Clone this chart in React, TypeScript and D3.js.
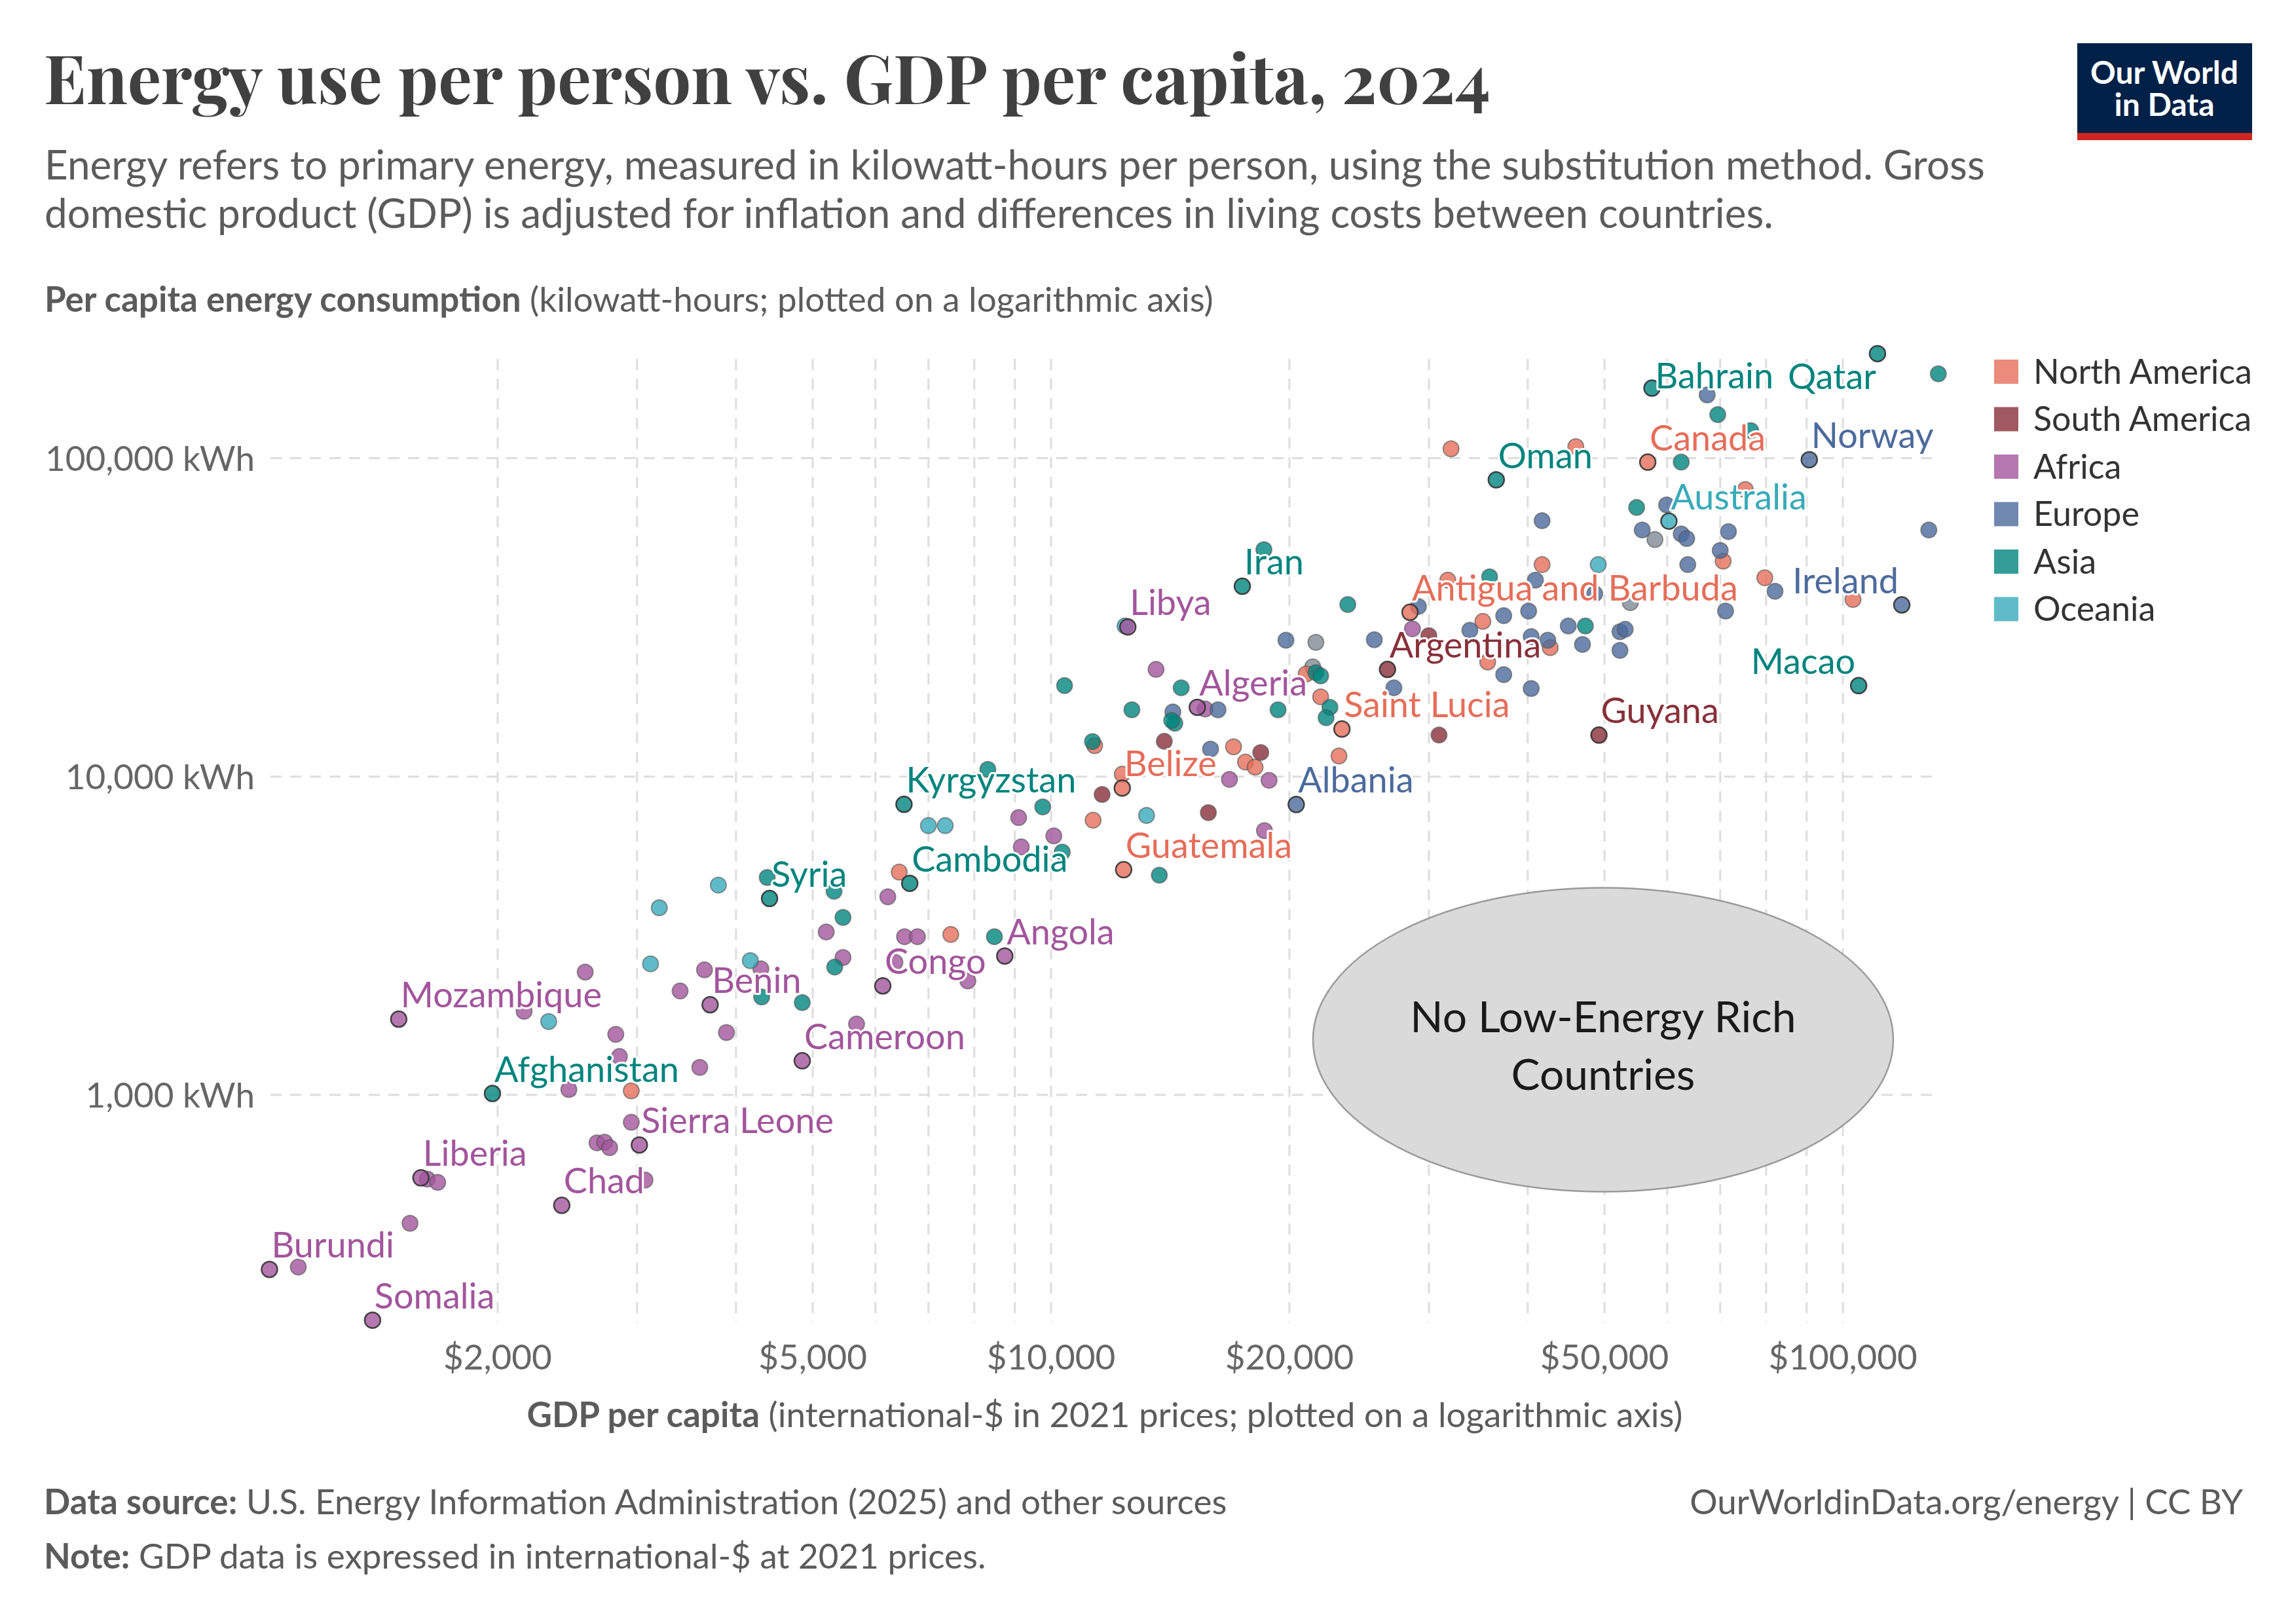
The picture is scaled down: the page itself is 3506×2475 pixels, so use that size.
import * as d3 from 'd3'

// GDP per capita (int.-$) and energy per person (kWh), grouped by continent
const northAmerica: [number, number][] = [
  [2950, 1030], [6430, 5010], [7470, 3190], [11300, 7290], [12300, 10170], [11350, 12500],
  [17000, 12400], [17600, 11100], [18100, 10700], [21000, 21000], [21900, 17800], [23100, 11600],
  [31700, 41400], [32000, 107000], [46000, 108700], [75300, 79700], [70600, 47500], [41700, 46300],
  [79700, 42100], [103000, 36000], [35100, 30700], [42700, 25400], [35600, 22900],
]
const southAmerica: [number, number][] = [
  [11600, 8780], [13900, 12900], [18400, 11900], [15800, 7700], [30000, 27700], [30900, 13500],
]
const africa: [number, number][] = [
  [1120, 288], [1550, 395], [1630, 544], [1680, 531], [2160, 1830], [2580, 2430], [2820, 1550],
  [2850, 1320], [3600, 1220], [2460, 1040], [2950, 820], [2670, 707], [2730, 710], [2770, 683],
  [3070, 540], [5200, 3250], [4300, 2490], [3650, 2470], [3400, 2120], [5460, 2700], [3890, 1570],
  [5680, 1670], [6220, 4190], [6530, 3140], [6780, 3140], [6350, 2610], [7850, 2280], [9100, 7430],
  [10080, 6510], [9170, 6010], [16800, 9790], [18850, 9730], [18600, 6760], [13570, 21700],
  [15650, 16300], [28600, 29100],
]
const europe: [number, number][] = [
  [15900, 12200], [16250, 16200], [14250, 15950], [19800, 26800], [25600, 26900], [27100, 19000],
  [29100, 34200], [33800, 28800], [37300, 32000], [40100, 33100], [40400, 27500], [42400, 26800],
  [37300, 20900], [40400, 18900], [41700, 63600], [40900, 41400], [45000, 29700], [46900, 26000],
  [52300, 28500], [53100, 29000], [52300, 24900], [48600, 37500], [55800, 59500], [59900, 71300],
  [62500, 57800], [63500, 55900], [71700, 58800], [70000, 51300], [63700, 46300], [71100, 33100],
  [82100, 38200], [128400, 59500], [67400, 158000],
]
const asia: [number, number][] = [
  [4380, 4820], [5320, 4360], [5460, 3610], [4310, 2030], [4850, 1950], [5330, 2520], [8480, 3140],
  [8320, 10530], [9760, 8030], [10330, 5790], [11280, 12880], [14330, 14700], [13700, 4900],
  [18570, 51600], [23700, 34700], [21600, 21200], [21900, 20700], [22500, 16500], [22250, 15300],
  [14600, 19000], [14200, 15000], [12650, 16200], [10400, 19300], [19350, 16200], [47300, 29700],
  [35800, 42400], [62500, 97200], [54900, 70000], [69500, 137000], [132000, 184000], [76500, 122000],
]
const oceania: [number, number][] = [
  [3800, 4560], [3200, 3870], [3120, 2580], [4170, 2640], [2320, 1700], [7000, 7010], [7350, 7010],
  [13200, 7550], [12400, 29700], [49100, 46300],
]
const noRegion: [number, number][] = [
  [21600, 26400], [21400, 22100], [57900, 55500], [53900, 35200],
]

const labeled = [
  { name: 'Burundi', region: 'Africa', gdp: 1030, energy: 283, place: 'ne' },
  { name: 'Somalia', region: 'Africa', gdp: 1390, energy: 196, place: 'ne' },
  { name: 'Liberia', region: 'Africa', gdp: 1600, energy: 549, place: 'ne' },
  { name: 'Mozambique', region: 'Africa', gdp: 1500, energy: 1730, place: 'ne' },
  { name: 'Chad', region: 'Africa', gdp: 2410, energy: 450, place: 'ne' },
  { name: 'Sierra Leone', region: 'Africa', gdp: 3020, energy: 696, place: 'ne' },
  { name: 'Benin', region: 'Africa', gdp: 3710, energy: 1920, place: 'ne' },
  { name: 'Cameroon', region: 'Africa', gdp: 4850, energy: 1280, place: 'ne' },
  { name: 'Congo', region: 'Africa', gdp: 6130, energy: 2200, place: 'ne' },
  { name: 'Angola', region: 'Africa', gdp: 8740, energy: 2730, place: 'ne' },
  { name: 'Libya', region: 'Africa', gdp: 12500, energy: 29500, place: 'ne' },
  { name: 'Algeria', region: 'Africa', gdp: 15300, energy: 16500, place: 'ne' },
  { name: 'Afghanistan', region: 'Asia', gdp: 1970, energy: 1010, place: 'ne' },
  { name: 'Syria', region: 'Asia', gdp: 4410, energy: 4140, place: 'ne' },
  { name: 'Kyrgyzstan', region: 'Asia', gdp: 6520, energy: 8180, place: 'ne' },
  { name: 'Cambodia', region: 'Asia', gdp: 6630, energy: 4620, place: 'ne' },
  { name: 'Iran', region: 'Asia', gdp: 17440, energy: 39600, place: 'ne' },
  { name: 'Oman', region: 'Asia', gdp: 36500, energy: 85500, place: 'ne' },
  { name: 'Bahrain', region: 'Asia', gdp: 57400, energy: 166000, place: 'e' },
  { name: 'Qatar', region: 'Asia', gdp: 110600, energy: 213000, place: 'sw' },
  { name: 'Macao', region: 'Asia', gdp: 104700, energy: 19300, place: 'nw' },
  { name: 'Belize', region: 'North America', gdp: 12300, energy: 9200, place: 'ne' },
  { name: 'Guatemala', region: 'North America', gdp: 12350, energy: 5100, place: 'ne' },
  { name: 'Saint Lucia', region: 'North America', gdp: 23300, energy: 14100, place: 'ne' },
  { name: 'Antigua and Barbuda', region: 'North America', gdp: 28400, energy: 32800, place: 'ne' },
  { name: 'Canada', region: 'North America', gdp: 56700, energy: 97200, place: 'ne' },
  { name: 'Argentina', region: 'South America', gdp: 26600, energy: 21700, place: 'ne' },
  { name: 'Guyana', region: 'South America', gdp: 49200, energy: 13500, place: 'ne' },
  { name: 'Albania', region: 'Europe', gdp: 20400, energy: 8170, place: 'ne' },
  { name: 'Norway', region: 'Europe', gdp: 90700, energy: 98900, place: 'ne' },
  { name: 'Ireland', region: 'Europe', gdp: 118700, energy: 34600, place: 'nw' },
  { name: 'Australia', region: 'Oceania', gdp: 60300, energy: 63400, place: 'ne' },
]

const regions = ['North America', 'South America', 'Africa', 'Europe', 'Asia', 'Oceania']
const regionColors: Record<string, string> = {
  'North America': '#E56E5A',
  'South America': '#883039',
  Africa: '#A2559C',
  Europe: '#4C6A9C',
  Asia: '#00847E',
  Oceania: '#38AABA',
}
const seriesByRegion: Record<string, [number, number][]> = {
  'North America': northAmerica,
  'South America': southAmerica,
  Africa: africa,
  Europe: europe,
  Asia: asia,
  Oceania: oceania,
}

const xTicks = [2000, 5000, 10000, 20000, 50000, 100000]
const xGrid = [2000, 3000, 4000, 5000, 6000, 7000, 8000, 9000, 10000, 20000, 30000, 40000, 50000, 60000, 70000, 80000, 90000, 100000]
const yTicks = [1000, 10000, 100000]

// annotation ellipse, centred in data units
const noteCenter = { gdp: 49800, energy: 1490 }
const noteLines = ['No Low-Energy Rich', 'Countries']

const W = 3506
const H = 2475
const font = "Lato, 'Noto Sans', sans-serif"

const App = () => {
  const x = d3.scaleLog().domain([1033, 132300]).range([413, 2961])
  const y = d3.scaleLog().domain([193, 205000]).range([2019, 548])
  const fmt = d3.format(',')
  const r = 12

  const labelPos = (px: number, py: number, place: string) => {
    if (place === 'nw') return { tx: px - 5, ty: py - 18, anchor: 'end' }
    if (place === 'sw') return { tx: px - 2, ty: py + 54, anchor: 'end' }
    if (place === 'e') return { tx: px + 5, ty: py, anchor: 'start' }
    return { tx: px + 3, ty: py - 18, anchor: 'start' }
  }

  return (
    <>
      <style>{`body{margin:0}`}</style>
      <svg width={W} height={H} style={{ display: 'block', background: '#fff' }} fontFamily={font}>
        {/* header */}
        <text x={67} y={159} fontFamily="'Playfair Display', 'Liberation Serif', serif" fontWeight={700}
          fontSize={104} fill="#404040" textLength={2209} lengthAdjust="spacingAndGlyphs">
          Energy use per person vs. GDP per capita, 2024
        </text>
        <text x={68} y={274} fontSize={62} fill="#5b5b5b">
          Energy refers to primary energy, measured in kilowatt-hours per person, using the substitution method. Gross
        </text>
        <text x={68} y={348} fontSize={62} fill="#5b5b5b">
          domestic product (GDP) is adjusted for inflation and differences in living costs between countries.
        </text>

        <rect x={3172} y={66} width={267} height={148} fill="#002147" />
        <rect x={3172} y={203} width={267} height={11} fill="#CE261E" />
        <text x={3305} y={128} textAnchor="middle" fontSize={48} fontWeight={700} fill="#fff">
          <tspan x={3305}>Our World</tspan>
          <tspan x={3305} dy={49}>in Data</tspan>
        </text>

        <text x={68} y={476} fontSize={53} fill="#5b5b5b">
          <tspan fontWeight={700}>Per capita energy consumption</tspan> (kilowatt-hours; plotted on a logarithmic axis)
        </text>

        {/* grid */}
        <g stroke="#dddddd" strokeWidth={3} strokeDasharray="17,13">
          {xGrid.map(v => (
            <line key={'gx' + v} x1={x(v)} x2={x(v)} y1={548} y2={2019} />
          ))}
          {yTicks.map(v => (
            <line key={'gy' + v} x1={413} x2={2961} y1={y(v)} y2={y(v)} />
          ))}
        </g>

        {/* axes */}
        {yTicks.map(v => (
          <text key={'ty' + v} x={389} y={y(v) + 19} textAnchor="end" fontSize={53} fill="#666">
            {fmt(v)} kWh
          </text>
        ))}
        {xTicks.map(v => (
          <text key={'tx' + v} x={x(v)} y={2091} textAnchor="middle" fontSize={53} fill="#666">
            ${fmt(v)}
          </text>
        ))}
        <text x={(413 + 2961) / 2} y={2179} textAnchor="middle" fontSize={53} fill="#5b5b5b">
          <tspan fontWeight={700}>GDP per capita</tspan> (international-$ in 2021 prices; plotted on a logarithmic axis)
        </text>

        {/* annotation */}
        <ellipse cx={x(noteCenter.gdp)} cy={y(noteCenter.energy)} rx={443} ry={232}
          fill="#dadada" stroke="#9a9a9a" strokeWidth={2.5} />
        {noteLines.map((t, i) => (
          <text key={t} x={x(noteCenter.gdp)} y={y(noteCenter.energy) - 12 + i * 88}
            textAnchor="middle" fontSize={66} fill="#1a1a1a">{t}</text>
        ))}

        {/* points */}
        <g>
          {noRegion.map(([g, e], i) => (
            <circle key={'n' + i} cx={x(g)} cy={y(e)} r={r} fill="#7f8a96" fillOpacity={0.8}
              stroke="#555" strokeOpacity={0.6} strokeWidth={2} />
          ))}
          {regions.map(reg =>
            seriesByRegion[reg].map(([g, e], i) => (
              <circle key={reg + i} cx={x(g)} cy={y(e)} r={r} fill={regionColors[reg]} fillOpacity={0.8}
                stroke="#555" strokeOpacity={0.6} strokeWidth={2} />
            ))
          )}
          {labeled.map(d => (
            <circle key={'l' + d.name} cx={x(d.gdp)} cy={y(d.energy)} r={r} fill={regionColors[d.region]}
              fillOpacity={0.8} stroke="#333" strokeOpacity={0.9} strokeWidth={2.5} />
          ))}
        </g>
        <g>
          {labeled.map(d => {
            const p = labelPos(x(d.gdp), y(d.energy), d.place)
            return (
              <text key={'t' + d.name} x={p.tx} y={p.ty} textAnchor={p.anchor} fontSize={54}
                fill={regionColors[d.region]} stroke="#fff" strokeWidth={6} strokeLinejoin="round"
                style={{ paintOrder: 'stroke' }}>
                {d.name}
              </text>
            )
          })}
        </g>

        {/* legend */}
        {regions.map((reg, i) => (
          <g key={'lg' + reg} transform={`translate(3045, ${567.5 + i * 72.5})`}>
            <rect x={0} y={-18.5} width={37} height={37} fill={regionColors[reg]} fillOpacity={0.8} />
            <text x={60} y={18} fontSize={52} fill="#333">{reg}</text>
          </g>
        ))}

        {/* footer */}
        <text x={67} y={2312} fontSize={53} fill="#5b5b5b">
          <tspan fontWeight={700}>Data source:</tspan> U.S. Energy Information Administration (2025) and other sources
        </text>
        <text x={67} y={2395} fontSize={53} fill="#5b5b5b">
          <tspan fontWeight={700}>Note:</tspan> GDP data is expressed in international-$ at 2021 prices.
        </text>
        <text x={3425} y={2312} textAnchor="end" fontSize={53} fill="#5b5b5b">
          OurWorldinData.org/energy | CC BY
        </text>
      </svg>
    </>
  )
}

export default App
